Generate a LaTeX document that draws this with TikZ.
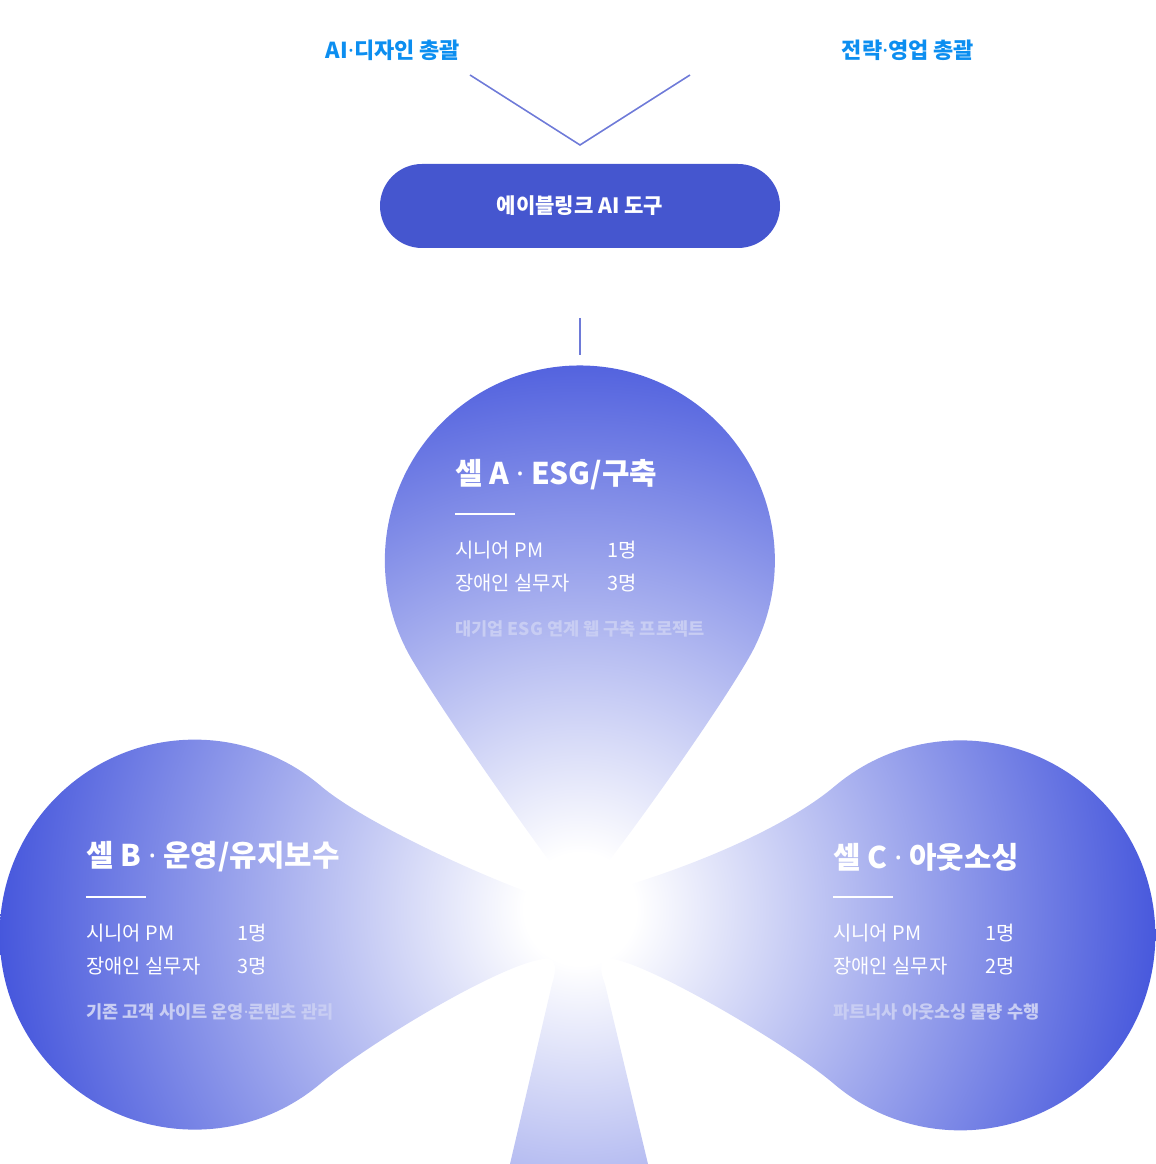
\documentclass[tikz,border=0pt]{standalone}
\usepackage{fontspec}
\setmainfont{Noto Sans CJK KR}
\newfontfamily\latinfont{Noto Sans}
\newcommand{\mdot}{{\latinfont ·}}
\usepackage{xcolor}
\definecolor{cellblue}{RGB}{58, 76, 218}
\definecolor{headblue}{RGB}{12, 142, 240}
\definecolor{linkblue}{RGB}{110, 122, 216}
\definecolor{btnblue}{RGB}{69, 86, 207}
\definecolor{desclav}{RGB}{200, 205, 243}
\usetikzlibrary{positioning}
\pgfdeclareradialshading{clover}{\pgfpoint{0bp}{0bp}}{color(0bp)=(white); color(2bp)=(white); color(22bp)=(cellblue); color(50bp)=(cellblue)}

\begin{document}
\begin{tikzpicture}[
    x=0.02cm, y=0.02cm,
    head/.style={font=\fontsize{12.5}{14}\selectfont\bfseries, text=headblue},
    tool/.style={rectangle, rounded corners=42*0.02cm, fill=btnblue, minimum width=400*0.02cm, minimum height=84*0.02cm, text=white, font=\fontsize{12}{14}\selectfont\bfseries},
    celltitle/.style={anchor=west, inner sep=0pt, text=white, font=\fontsize{17}{20}\selectfont\bfseries},
    row/.style={anchor=west, inner sep=0pt, text=white, font=\fontsize{11.3}{13}\selectfont},
    desc/.style={anchor=west, inner sep=0pt, text=desclav, font=\fontsize{10}{12}\selectfont\bfseries},
    link/.style={draw=linkblue, line width=0.9pt}
]
    \useasboundingbox (0,0) rectangle (1156,1164);

    % Clover
    \begin{scope}
        \clip (555,295) .. controls (500,370) and (436,463) .. (411,506)
            arc[start angle=210, end angle=-30, radius=195]
            .. controls (724,463) and (660,370) .. (603,295)
            .. controls (593,280) and (600,270) .. (618,276)
            .. controls (700,300) and (789,339) .. (835,378)
            arc[start angle=130, end angle=-130, radius=195]
            .. controls (789,119) and (650,200) .. (612,205)
            .. controls (598,207) and (600,192) .. (605,180)
            -- (648,0) -- (510,0) -- (552,180)
            .. controls (556,192) and (558,207) .. (544,205)
            .. controls (500,200) and (366,119) .. (320,80)
            arc[start angle=-50, end angle=-310, radius=195]
            .. controls (366,339) and (500,280) .. (540,268)
            .. controls (560,262) and (565,282) .. cycle;
        \shade[shading=clover] (580,255) circle[radius=700];
    \end{scope}

    % Top
    \node[head] (design) at (393,1114) {AI\mdot 디자인 총괄};
    \node[head] (sales) at (908,1114) {전략\mdot 영업 총괄};
    \coordinate (designend) at (470,1089);
    \coordinate (salesend) at (690,1089);
    \coordinate (meet) at (580,1019);
    \draw[link] (designend) -- (meet) -- (salesend);
    \node[tool] (tool) at (580,958) {에이블링크 AI 도구};
    \coordinate (toolend) at (580,846);
    \coordinate (cellend) at (580,809);
    \draw[link] (toolend) -- (cellend);

    % Cell A
    \node[celltitle] (atitle) at (455,689) {셀 A \mdot{} ESG/구축};
    \draw[white, line width=1.5pt] (455,650) -- (515,650);
    \node[row] (apm) at (455,614) {시니어 PM};
    \node[row] (apmn) at (607,614) {1명};
    \node[row] (awork) at (455,581) {장애인 실무자};
    \node[row] (aworkn) at (607,581) {3명};
    \node[desc] (adesc) at (455,535) {대기업 ESG 연계 웹 구축 프로젝트};

    % Cell B
    \node[celltitle] (btitle) at (86,307) {셀 B \mdot{} 운영/유지보수};
    \draw[white, line width=1.5pt] (86,267) -- (146,267);
    \node[row] (bpm) at (86,231) {시니어 PM};
    \node[row] (bpmn) at (237,231) {1명};
    \node[row] (bwork) at (86,198) {장애인 실무자};
    \node[row] (bworkn) at (237,198) {3명};
    \node[desc] (bdesc) at (86,152) {기존 고객 사이트 운영\mdot 콘텐츠 관리};

    % Cell C
    \node[celltitle] (ctitle) at (833,307) {셀 C \mdot{} 아웃소싱};
    \draw[white, line width=1.5pt] (833,267) -- (893,267);
    \node[row] (cpm) at (833,231) {시니어 PM};
    \node[row] (cpmn) at (985,231) {1명};
    \node[row] (cwork) at (833,198) {장애인 실무자};
    \node[row] (cworkn) at (985,198) {2명};
    \node[desc] (cdesc) at (833,152) {파트너사 아웃소싱 물량 수행};
\end{tikzpicture}
\end{document}
